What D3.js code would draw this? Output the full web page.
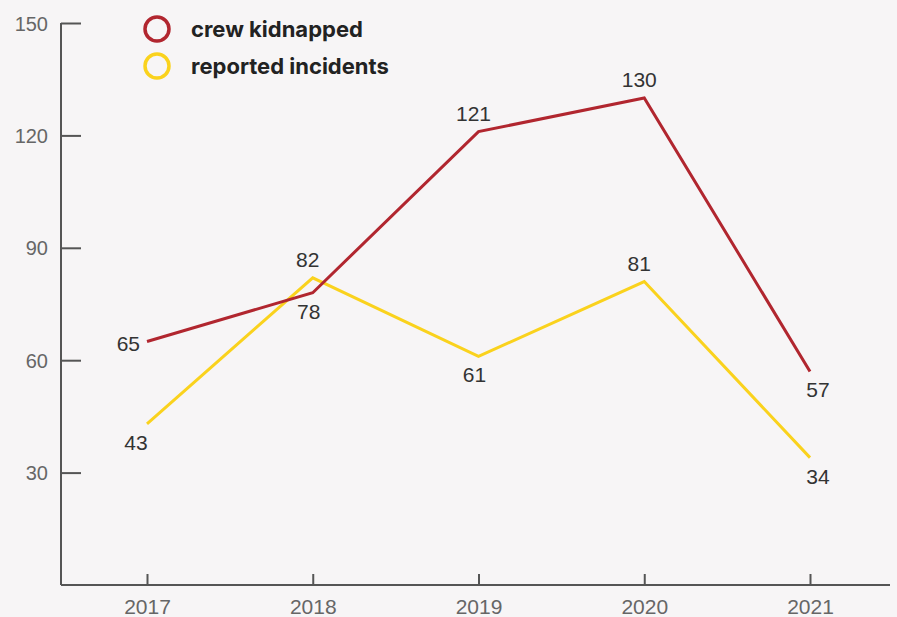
<!DOCTYPE html>
<meta charset="utf-8">
<style>
body {
  margin: 0;
  background: #f7f5f6;
}

svg {
  display: block;
  font-family: "Liberation Sans", Arial, sans-serif;
}

.axis path, .axis line {
  stroke: #555;
  stroke-width: 2;
}

.axis text {
  fill: #666;
  font-size: 21px;
}
</style>
<body>
  <svg id="chart" width="897" height="617"></svg>
</body>
<script src="https://d3js.org/d3.v7.min.js"></script>
<script>
// data
var years = ["2017", "2018", "2019", "2020", "2021"];
var crewKidnapped = [65, 78, 121, 130, 57];
var reportedIncidents = [43, 82, 61, 81, 34];
var yTicks = [30, 60, 90, 120, 150];

// where each value label sits relative to its point
var crewLabelPos = ["left", "below", "above", "above", "belowRight"];
var incidentLabelPos = ["belowLeft", "above", "below", "above", "belowRight"];

var series = [
  { name: "crew kidnapped", values: crewKidnapped, pos: crewLabelPos, color: "#b1262f" },
  { name: "reported incidents", values: reportedIncidents, pos: incidentLabelPos, color: "#fad21d" }
];

// label offsets per placement
var offsets = {
  left: [-7, 10],
  above: [-5, -11],
  below: [-4, 26],
  belowLeft: [-11, 26],
  belowRight: [8, 26]
};

var svg = d3.select("#chart");

var x = d3.scalePoint().domain(years).range([147, 810]),
  y = d3.scaleLinear().domain([0, 150]).range([585, 23]);

// y axis: ticks pointing right into the plot
var yAxis = svg.append("g").attr("class", "axis").attr("transform", "translate(61,0)")
  .call(d3.axisRight(y).tickValues(yTicks).tickSize(20).tickSizeOuter(0));
yAxis.select(".domain").attr("d", "M0," + y(0) + "V" + y(150));
yAxis.selectAll("text").attr("x", -13).attr("text-anchor", "end").attr("dy", "0.35em")
  .style("font-size", "20px");

// x axis: short ticks pointing up
var xAxis = svg.append("g").attr("class", "axis").attr("transform", "translate(0," + y(0) + ")")
  .call(d3.axisTop(x).tickSize(11).tickSizeOuter(0));
xAxis.select(".domain").attr("d", "M61,0H890");
xAxis.selectAll("text").attr("y", 29).attr("dy", 0);

var line = d3.line()
  .x(function(d, i) { return x(years[i]); })
  .y(function(d) { return y(d); });

// draw yellow first so red sits on top
series.slice().reverse().forEach(function(s) {
  svg.append("path")
    .attr("d", line(s.values))
    .attr("fill", "none")
    .attr("stroke", s.color)
    .attr("stroke-width", 3);
});

series.forEach(function(s) {
  svg.append("g").selectAll("text")
    .data(s.values)
    .enter().append("text")
    .attr("x", function(d, i) { return x(years[i]) + offsets[s.pos[i]][0]; })
    .attr("y", function(d, i) { return y(d) + offsets[s.pos[i]][1]; })
    .attr("text-anchor", function(d, i) { return s.pos[i] == "left" ? "end" : "middle"; })
    .attr("font-size", 21)
    .attr("fill", "#333")
    .text(function(d) { return d; });
});

// legend
var legend = svg.append("g").selectAll("g")
  .data(series)
  .enter().append("g")
  .attr("transform", function(d, i) { return "translate(157," + (29 + i * 37) + ")"; });

legend.append("circle")
  .attr("r", 12)
  .attr("fill", "none")
  .attr("stroke", function(d) { return d.color; })
  .attr("stroke-width", 3.5);

legend.append("text")
  .attr("x", 34)
  .attr("dy", "0.35em")
  .attr("font-size", 22)
  .attr("font-weight", "bold")
  .attr("font-family", "Inter, sans-serif")
  .attr("fill", "#222")
  .text(function(d) { return d.name; });
</script>
